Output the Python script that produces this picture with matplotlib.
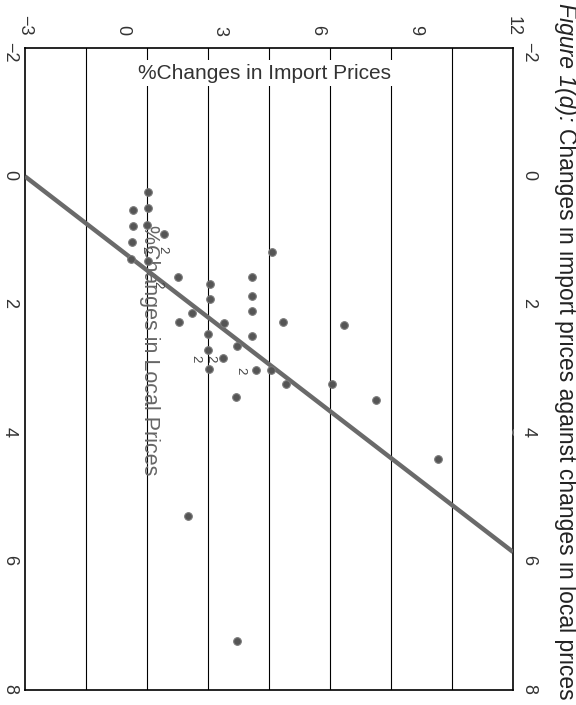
import matplotlib
matplotlib.use("Agg")
import matplotlib.pyplot as plt
from matplotlib.patches import Rectangle

plt.rcParams["font.family"] = ["Liberation Sans", "DejaVu Sans"]

# ------------------------------------------------------------
# data read off the (rotated) scan
# ------------------------------------------------------------
# single observations: % change in local prices / import prices
local_pts = [0.25, 0.49, 0.52, 0.75, 0.78, 0.90, 1.02, 1.29, 1.32, 1.56,
             1.67, 1.91, 1.56, 1.86, 2.10, 2.13, 2.27, 2.29, 2.27, 1.17,
             2.45, 2.49, 2.64, 2.70, 2.83, 3.00, 3.02, 3.02, 3.24, 3.43,
             2.31, 3.24, 3.49, 4.40, 5.29, 7.23, 3.98]
import_pts = [0.79, 0.79, 0.33, 0.74, 0.33, 1.26, 0.30, 0.26, 0.79, 1.69,
              2.69, 2.69, 3.98, 3.98, 3.98, 2.13, 1.72, 3.13, 4.93, 4.59,
              2.64, 3.98, 3.51, 2.64, 3.10, 2.67, 4.10, 4.57, 5.02, 3.48,
              6.79, 6.44, 7.78, 9.69, 2.01, 3.53, 12.1]

# coincident observations, plotted as "2"
local_pairs = [1.14, 1.14, 1.69, 2.84, 2.84, 3.02]
import_pairs = [0.69, 1.21, 1.08, 2.23, 2.69, 3.62]

# fitted line
fit_local = [0.0, 5.85]
fit_import = [-3.0, 12.0]

import_ticks = [-3, 0, 3, 6, 9, 12]
local_ticks = [-2, 0, 2, 4, 6, 8]
grid_import = [-1.125, 0.75, 2.625, 4.5, 6.375, 8.25, 10.125]

# ------------------------------------------------------------
# figure (page is printed turned by 90 degrees)
# ------------------------------------------------------------
fig = plt.figure(figsize=(5.76, 7.05), dpi=100)
ax = fig.add_axes([25 / 576, 15 / 705, 488 / 576, 642 / 705])

ax.set_xlim(-3, 12)
ax.set_ylim(8, -2)

for g in grid_import:
    ax.axvline(g, color="black", lw=0.8, zorder=1)

# white patch behind the import-prices label
ax.add_patch(Rectangle((0.175, 0.941), 0.63, 0.04, transform=ax.transAxes,
                       facecolor="white", edgecolor="none", zorder=2))
ax.text(0.49, 0.961, "%Changes in Import Prices", transform=ax.transAxes,
        ha="center", va="center", fontsize=15, color="#333333", zorder=3)
ax.text(0.255, 0.53, "%Changes in Local Prices", transform=ax.transAxes,
        ha="center", va="center", rotation=-90, fontsize=15.5,
        color="#666666", zorder=3)

ax.plot(fit_import, fit_local, color="#6a6a6a", lw=3.2, solid_capstyle="butt",
        zorder=4)
ax.plot(import_pts, local_pts, "o", ms=5.5, color="#555555",
        mec="#7a7a7a", mew=0.8, zorder=5)
for xi, yi in zip(import_pairs, local_pairs):
    ax.text(xi, yi, "2", rotation=-90, ha="center", va="center",
            fontsize=9.5, color="#444444", zorder=6)

ax.set_xticks(import_ticks)
ax.set_xticklabels([str(t).replace("-", "\u2212") for t in import_ticks])
ax.set_yticks(local_ticks)
ax.set_yticklabels([str(t).replace("-", "\u2212") for t in local_ticks])
ax.tick_params(axis="x", top=True, bottom=False, labeltop=True,
               labelbottom=False, length=0, pad=9, labelsize=13,
               labelrotation=-90, labelcolor="#333333")
ax.tick_params(axis="y", left=True, right=True, labelleft=True,
               labelright=True, length=0, pad=5, labelsize=13,
               labelrotation=-90, labelcolor="#333333")
for s in ax.spines.values():
    s.set_linewidth(1.2)

# title, split into an italic and an upright piece
tx = 566 / 576
t1 = fig.text(tx, 1 - 3 / 705, "Figure 1(d):", rotation=-90, style="italic",
              ha="center", va="top", fontsize=16.5, color="#222222")
fig.canvas.draw()
bb = t1.get_window_extent()
y2 = (bb.y0 - 6) / fig.bbox.height
fig.text(tx, y2, "Changes in import prices against changes in local prices",
         rotation=-90, ha="center", va="top", fontsize=16.5, color="#222222")

fig.savefig("out.png", dpi=100)
